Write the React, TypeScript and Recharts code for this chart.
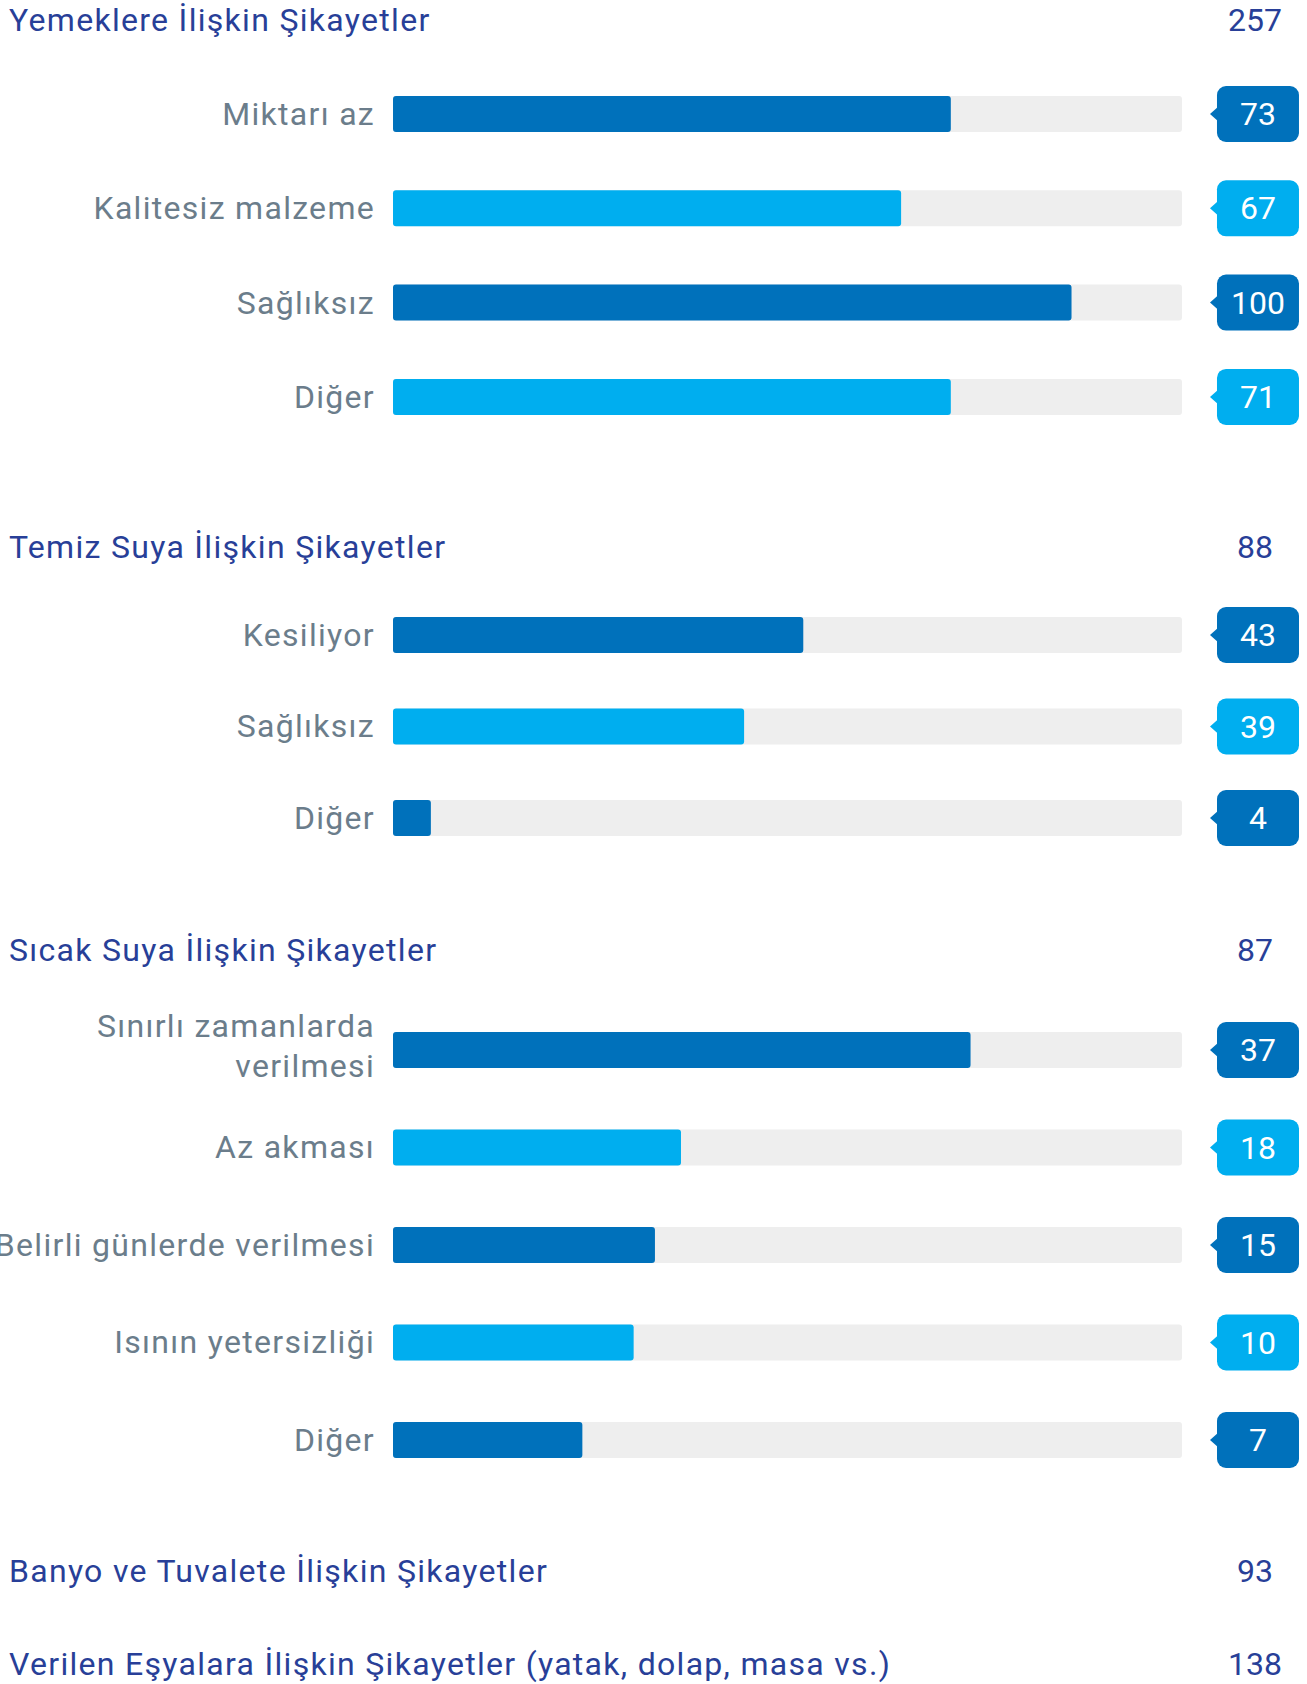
import React from 'react';
import { BarChart, Bar, XAxis, YAxis, Cell, LabelList } from 'recharts';

const FONT = 'Roboto, "Noto Sans", sans-serif';
const TITLE_BLUE = '#283f98';
const LABEL_GRAY = '#6b7d8b';
const DARK = '#0071bb';
const LIGHT = '#00aeef';
const TRACK = '#eeeeee';
const SPACING = 1.3;

// section headings with their totals
const sectionTitles = [
  'Yemeklere İlişkin Şikayetler',
  'Temiz Suya İlişkin Şikayetler',
  'Sıcak Suya İlişkin Şikayetler',
  'Banyo ve Tuvalete İlişkin Şikayetler',
  'Verilen Eşyalara İlişkin Şikayetler (yatak, dolap, masa vs.)',
];
const sectionTotals = [257, 88, 87, 93, 138];

// food
const foodLabels = ['Miktarı az', 'Kalitesiz malzeme', 'Sağlıksız', 'Diğer'];
const foodCounts = [73, 67, 100, 71];
const foodFill = [70.7, 64.4, 86, 70.7]; // bar length as % of track

// drinking water
const waterLabels = ['Kesiliyor', 'Sağlıksız', 'Diğer'];
const waterCounts = [43, 39, 4];
const waterFill = [52, 44.5, 4.8];

// hot water
const hotLabels = [
  'Sınırlı zamanlarda\nverilmesi',
  'Az akması',
  'Belirli günlerde verilmesi',
  'Isının yetersizliği',
  'Diğer',
];
const hotCounts = [37, 18, 15, 10, 7];
const hotFill = [73.2, 36.5, 33.2, 30.5, 24];

const titleCenters = [20, 547, 950, 1571, 1664];

const toRows = (labels: string[], counts: number[], fill: number[]) =>
  labels.map((label, i) => ({ label, count: counts[i], fill: fill[i] }));

const LabelTick = (props: any) => {
  const { y, payload } = props;
  const lines = String(payload.value).split('\n');
  const lh = 40;
  const first = 11 - ((lines.length - 1) * lh) / 2 - (lines.length > 1 ? 4 : 0);
  return (
    <text
      x={375}
      y={y}
      textAnchor="end"
      fill={LABEL_GRAY}
      fontSize={32}
      fontFamily={FONT}
      style={{ letterSpacing: SPACING }}
    >
      {lines.map((l, i) => (
        <tspan key={i} x={375} dy={i === 0 ? first : lh}>
          {l}
        </tspan>
      ))}
    </text>
  );
};

const ValueBox = (props: any) => {
  const { y, height, value, index } = props;
  const cy = Number(y) + Number(height) / 2;
  const color = (index ?? 0) % 2 === 0 ? DARK : LIGHT;
  const bx = 1217;
  const bw = 82;
  const bh = 56;
  return (
    <g>
      <path d={`M${bx - 7},${cy} L${bx + 2},${cy - 8} L${bx + 2},${cy + 8} Z`} fill={color} />
      <rect x={bx} y={cy - bh / 2} width={bw} height={bh} rx={9} fill={color} />
      <text
        x={bx + bw / 2}
        y={cy + 11}
        textAnchor="middle"
        fill="#ffffff"
        fontSize={32}
        fontFamily={FONT}
      >
        {value}
      </text>
    </g>
  );
};

const Section: React.FC<{ rows: any[]; top: number; band: number }> = ({ rows, top, band }) => (
  <div style={{ position: 'absolute', left: 0, top }}>
    <BarChart
      layout="vertical"
      width={1307}
      height={rows.length * band}
      data={rows}
      margin={{ top: 0, right: 125, bottom: 0, left: 0 }}
      barSize={36}
    >
      <XAxis type="number" domain={[0, 100]} hide />
      <YAxis
        type="category"
        dataKey="label"
        width={393}
        axisLine={false}
        tickLine={false}
        interval={0}
        tick={<LabelTick />}
      />
      <Bar
        dataKey="fill"
        background={{ fill: TRACK, radius: 3 }}
        radius={3}
        isAnimationActive={false}
      >
        {rows.map((_, i) => (
          <Cell key={i} fill={i % 2 === 0 ? DARK : LIGHT} />
        ))}
        <LabelList dataKey="count" content={<ValueBox />} />
      </Bar>
    </BarChart>
  </div>
);

export default function App() {
  return (
    <div
      style={{
        position: 'absolute',
        left: 0,
        top: 0,
        width: 1307,
        height: 1684,
        background: '#ffffff',
        overflow: 'hidden',
        fontFamily: FONT,
      }}
    >
      {sectionTitles.map((t, i) => (
        <React.Fragment key={t}>
          <div
            style={{
              position: 'absolute',
              left: 9,
              top: titleCenters[i] - 20,
              lineHeight: '40px',
              fontSize: 32,
              letterSpacing: SPACING,
              color: TITLE_BLUE,
              whiteSpace: 'nowrap',
            }}
          >
            {t}
          </div>
          <div
            style={{
              position: 'absolute',
              left: 1205,
              width: 100,
              top: titleCenters[i] - 20,
              lineHeight: '40px',
              fontSize: 32,
              color: TITLE_BLUE,
              textAlign: 'center',
            }}
          >
            {sectionTotals[i]}
          </div>
        </React.Fragment>
      ))}
      <Section rows={toRows(foodLabels, foodCounts, foodFill)} top={67} band={94.3} />
      <Section rows={toRows(waterLabels, waterCounts, waterFill)} top={589} band={91.5} />
      <Section rows={toRows(hotLabels, hotCounts, hotFill)} top={1001} band={97.5} />
    </div>
  );
}
